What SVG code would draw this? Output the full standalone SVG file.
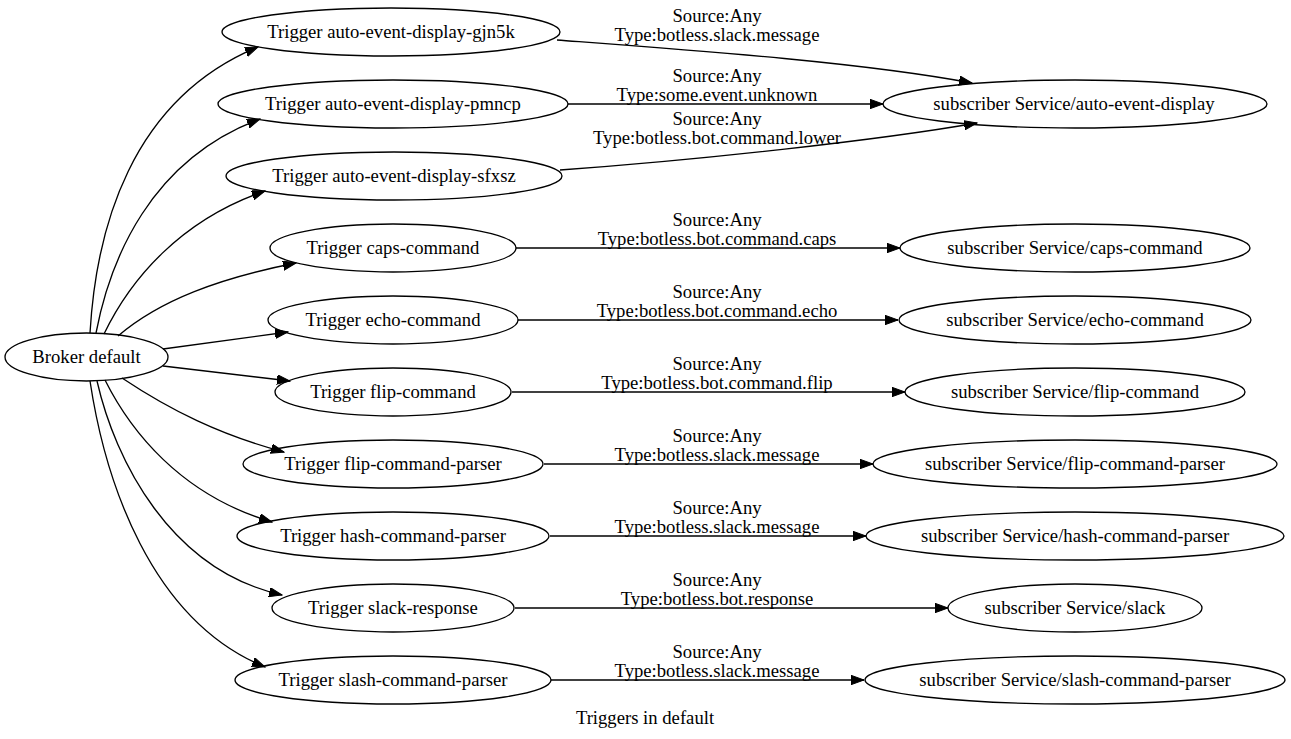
<svg xmlns="http://www.w3.org/2000/svg" width="1291" height="739" viewBox="0 0 1291 739">
<style>
text{font-family:"Liberation Serif","Times New Roman",serif;font-size:18.67px;fill:#000;text-anchor:middle}
.n ellipse{fill:none;stroke:#000;stroke-width:1.33}
.e path{fill:none;stroke:#000;stroke-width:1.33}
</style>
<defs>
<marker id="ah" markerUnits="userSpaceOnUse" markerWidth="14" markerHeight="10" refX="13" refY="4.7" orient="auto">
<path d="M0,0 L13,4.7 L0,9.4 z" fill="#000" stroke="#000" stroke-width="1"/>
</marker>
</defs>
<rect width="1291" height="739" fill="#fff"/>
<g id="connectors" class="e">
<path marker-end="url(#ah)" d="M90,333 C96,230 130,100 258,47"/>
<path marker-end="url(#ah)" d="M96,333 C110,260 150,160 260,119"/>
<path marker-end="url(#ah)" d="M104,334 C130,280 180,220 265,191"/>
<path marker-end="url(#ah)" d="M118,336 C160,300 220,278 296,263"/>
<path marker-end="url(#ah)" d="M163,349 L288,332"/>
<path marker-end="url(#ah)" d="M163,366 L290,381"/>
<path marker-end="url(#ah)" d="M122,378 C170,410 220,435 284,452"/>
<path marker-end="url(#ah)" d="M105,380 C130,430 180,495 272,522"/>
<path marker-end="url(#ah)" d="M97,381 C115,460 170,570 282,595"/>
<path marker-end="url(#ah)" d="M90,381 C105,480 150,620 265,667"/>
<path marker-end="url(#ah)" d="M557,40 C690,50 860,62 972,83"/>
<path marker-end="url(#ah)" d="M568,104 L883,104"/>
<path marker-end="url(#ah)" d="M560,170 C700,160 880,140 977,123"/>
<path marker-end="url(#ah)" d="M516,248 L900,248"/>
<path marker-end="url(#ah)" d="M518,320 L898,320"/>
<path marker-end="url(#ah)" d="M512,392 L905,392"/>
<path marker-end="url(#ah)" d="M544,464 L873,464"/>
<path marker-end="url(#ah)" d="M550,536 L866,536"/>
<path marker-end="url(#ah)" d="M515,608 L948,608"/>
<path marker-end="url(#ah)" d="M551,680 L864,680"/>
<text x="717" y="22">Source:Any</text><text x="717" y="41">Type:botless.slack.message</text>
<text x="717" y="82">Source:Any</text><text x="717" y="101">Type:some.event.unknown</text>
<text x="717" y="125">Source:Any</text><text x="717" y="144">Type:botless.bot.command.lower</text>
<text x="717" y="226">Source:Any</text><text x="717" y="245">Type:botless.bot.command.caps</text>
<text x="717" y="298">Source:Any</text><text x="717" y="317">Type:botless.bot.command.echo</text>
<text x="717" y="370">Source:Any</text><text x="717" y="389">Type:botless.bot.command.flip</text>
<text x="717" y="442">Source:Any</text><text x="717" y="461">Type:botless.slack.message</text>
<text x="717" y="514">Source:Any</text><text x="717" y="533">Type:botless.slack.message</text>
<text x="717" y="586">Source:Any</text><text x="717" y="605">Type:botless.bot.response</text>
<text x="717" y="658">Source:Any</text><text x="717" y="677">Type:botless.slack.message</text>
</g>
<g id="broker" class="n"><ellipse cx="86.5" cy="357" rx="81.5" ry="24"/><text x="86.5" y="363">Broker default</text></g>
<g id="t-gjn5k" class="n"><ellipse cx="391" cy="32" rx="169" ry="24"/><text x="391" y="38">Trigger auto-event-display-gjn5k</text></g>
<g id="t-pmncp" class="n"><ellipse cx="393" cy="104" rx="175" ry="24"/><text x="393" y="110">Trigger auto-event-display-pmncp</text></g>
<g id="t-sfxsz" class="n"><ellipse cx="394" cy="176" rx="168" ry="24"/><text x="394" y="182">Trigger auto-event-display-sfxsz</text></g>
<g id="t-caps" class="n"><ellipse cx="393" cy="248" rx="123" ry="24"/><text x="393" y="254">Trigger caps-command</text></g>
<g id="t-echo" class="n"><ellipse cx="393" cy="320" rx="125" ry="24"/><text x="393" y="326">Trigger echo-command</text></g>
<g id="t-flip" class="n"><ellipse cx="393" cy="392" rx="118" ry="24"/><text x="393" y="398">Trigger flip-command</text></g>
<g id="t-flipparser" class="n"><ellipse cx="393" cy="464" rx="150" ry="24"/><text x="393" y="470">Trigger flip-command-parser</text></g>
<g id="t-hash" class="n"><ellipse cx="393" cy="536" rx="156" ry="24"/><text x="393" y="542">Trigger hash-command-parser</text></g>
<g id="t-slack" class="n"><ellipse cx="393" cy="608" rx="121" ry="24"/><text x="393" y="614">Trigger slack-response</text></g>
<g id="t-slash" class="n"><ellipse cx="393" cy="680" rx="158" ry="24"/><text x="393" y="686">Trigger slash-command-parser</text></g>
<g id="s-aed" class="n"><ellipse cx="1075" cy="104" rx="192" ry="24"/><text x="1074" y="110">subscriber Service/auto-event-display</text></g>
<g id="s-caps" class="n"><ellipse cx="1075" cy="248" rx="175" ry="24"/><text x="1075" y="254">subscriber Service/caps-command</text></g>
<g id="s-echo" class="n"><ellipse cx="1075" cy="320" rx="176" ry="24"/><text x="1075" y="326">subscriber Service/echo-command</text></g>
<g id="s-flip" class="n"><ellipse cx="1075" cy="392" rx="170" ry="24"/><text x="1075" y="398">subscriber Service/flip-command</text></g>
<g id="s-flipparser" class="n"><ellipse cx="1075" cy="464" rx="202" ry="24"/><text x="1075" y="470">subscriber Service/flip-command-parser</text></g>
<g id="s-hash" class="n"><ellipse cx="1075" cy="536" rx="209" ry="24"/><text x="1075" y="542">subscriber Service/hash-command-parser</text></g>
<g id="s-slack" class="n"><ellipse cx="1075" cy="608" rx="127" ry="24"/><text x="1075" y="614">subscriber Service/slack</text></g>
<g id="s-slash" class="n"><ellipse cx="1075" cy="680" rx="210" ry="24"/><text x="1075" y="686">subscriber Service/slash-command-parser</text></g>
<text x="645" y="724">Triggers in default</text>
</svg>
